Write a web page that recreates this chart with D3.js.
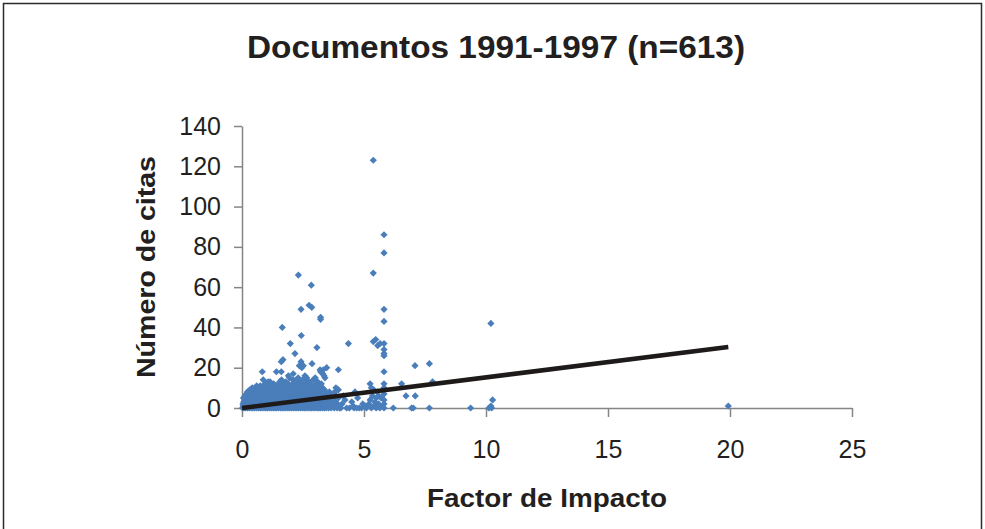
<!DOCTYPE html>
<html>
<head>
<meta charset="utf-8">
<script src="https://cdn.jsdelivr.net/npm/d3@7/dist/d3.min.js"></script>
<style>
  body { margin: 0; background: #fff; }
  text { font-family: "Liberation Sans", Arial, Helvetica, sans-serif; fill: #231f20; }
</style>
</head>
<body>
<div id="chart"></div>
<script>
var width = 985, height = 529;

// tick labels
var ticksX = [0, 5, 10, 15, 20, 25];
var ticksY = [0, 20, 40, 60, 80, 100, 120, 140];

// dense core: row index = number of citations, values = impact factor
var nucleoFI = [
  [0.02,0.08,0.15,0.22,0.3,0.38,0.45,0.52,0.6,0.68,0.75,0.82,0.9,0.98,1.05,1.12,1.2,1.28,1.35,1.42,1.5,1.58,1.65,1.72,1.8,1.88,1.95,2.02,2.1,2.18,2.25,2.32,2.4,2.48,2.55,2.62,2.7,2.78,2.85,2.92,3.0,3.08,3.15,3.22,3.3,3.38,3.45,3.55,3.65,3.78,3.9,4.05],
  [0.05,0.12,0.2,0.28,0.35,0.43,0.5,0.58,0.66,0.74,0.82,0.9,0.98,1.06,1.14,1.22,1.3,1.38,1.46,1.54,1.62,1.7,1.78,1.86,1.94,2.02,2.1,2.18,2.26,2.34,2.42,2.5,2.58,2.66,2.74,2.82,2.9,2.98,3.06,3.14,3.22,3.32,3.42,3.6,3.72,3.85],
  [0.04,0.14,0.24,0.32,0.41,0.5,0.6,0.7,0.79,0.88,0.97,1.05,1.15,1.25,1.34,1.43,1.52,1.61,1.7,1.8,1.9,1.99,2.08,2.17,2.27,2.36,2.45,2.55,2.64,2.73,2.83,2.93,3.03,3.12,3.25,3.36,3.5,3.68,3.92],
  [0.07,0.17,0.27,0.37,0.47,0.56,0.65,0.74,0.84,0.93,1.02,1.11,1.2,1.3,1.39,1.48,1.57,1.66,1.75,1.85,1.94,2.03,2.13,2.22,2.31,2.41,2.5,2.6,2.7,2.8,2.9,3.0,3.1,3.2,3.3,3.45,3.62,3.82],
  [0.1,0.21,0.3,0.4,0.5,0.6,0.69,0.78,0.88,0.97,1.07,1.16,1.26,1.36,1.45,1.55,1.64,1.74,1.83,1.93,2.02,2.12,2.21,2.31,2.4,2.5,2.6,2.7,2.8,2.9,3.0,3.12,3.24,3.38,3.55,3.75],
  [0.06,0.18,0.28,0.38,0.48,0.58,0.67,0.77,0.86,0.96,1.05,1.15,1.24,1.34,1.44,1.53,1.63,1.72,1.82,1.92,2.01,2.11,2.2,2.3,2.39,2.49,2.59,2.68,2.78,2.88,2.98,3.1,3.22,3.35,3.5,3.7,3.95],
  [0.12,0.25,0.36,0.46,0.56,0.66,0.76,0.86,0.95,1.05,1.15,1.25,1.35,1.45,1.55,1.65,1.75,1.85,1.95,2.05,2.15,2.25,2.35,2.45,2.55,2.65,2.75,2.85,2.95,3.06,3.18,3.3,3.45,3.62,3.85],
  [0.18,0.3,0.42,0.53,0.64,0.74,0.85,0.95,1.06,1.17,1.27,1.38,1.48,1.58,1.69,1.79,1.9,2.0,2.1,2.2,2.3,2.4,2.5,2.6,2.7,2.8,2.92,3.04,3.16,3.28,3.42,3.6],
  [0.22,0.35,0.47,0.58,0.7,0.8,0.92,1.03,1.14,1.25,1.36,1.47,1.58,1.69,1.8,1.91,2.02,2.12,2.22,2.33,2.44,2.55,2.66,2.77,2.88,3.0,3.12,3.25,3.4,3.58,3.8],
  [0.32,0.45,0.57,0.68,0.8,0.92,1.04,1.16,1.28,1.4,1.52,1.63,1.75,1.87,1.98,2.1,2.22,2.34,2.46,2.58,2.7,2.82,2.95,3.08,3.22,3.38],
  [0.42,0.55,0.68,0.8,0.93,1.06,1.2,1.33,1.46,1.6,1.74,1.88,2.0,2.14,2.28,2.42,2.56,2.7,2.84,2.98,3.15,3.3],
  [0.6,0.75,0.9,1.05,1.22,1.38,1.55,1.7,1.85,2.02,2.18,2.34,2.5,2.65,2.82,3.0,3.2],
  [0.95,1.3,1.5,1.72,1.9,2.08,2.26,2.44,2.6,2.8,3.05,3.25],
  [1.55,1.8,2.15,2.38,2.55,2.75,3.1],
  [1.62,2.22,2.48,2.92],
  [2.3,2.65,3.0],
  [1.9,2.58]
];

// scattered documents [factor de impacto, citas]
var dispersos = [
  [5.38,123],[5.82,86],[5.82,77],[5.38,67],[2.31,66],[2.84,61],[2.42,49],[2.75,51],[2.86,50],
  [3.22,45],[3.22,44],[5.82,49],[5.82,43],[1.65,40],[2.43,36],[1.98,32],[3.07,30],[2.17,27],
  [4.36,32],[5.38,33],[5.48,34],[5.56,31],[5.66,32],[5.82,32],[5.82,29],[5.82,27],[5.82,26],
  [1.68,24],[1.61,23],[2.42,23],[2.51,21],[2.35,21],[2.45,20],[2.87,22],[3.47,20],[3.2,19],
  [3.31,17],[3.36,16],[3.95,19],[3.33,19],[3.22,18],[3.4,15],[0.83,18],[1.41,18],[1.61,18],
  [2.1,17],[0.87,14],[1.15,13],[1.07,13],[1.95,15],[2.09,14],[5.82,18],[7.09,21],[7.68,22],
  [6.54,12],[6.72,6],[7.1,6],[7.81,13],[6.2,0],[6.95,0],[7.02,0],[7.68,0],[9.37,0],[10.12,0],
  [10.23,0],[10.27,4],[10.2,1],[10.2,42],[19.93,1],[5.25,12],[4.63,8],[4.74,5],[4.22,4],
  [4.29,0],[4.59,0],[4.9,0],[3.85,10],[3.95,9],[4.56,1],[4.0,0],[4.1,2],[4.4,0],[4.5,3],
  [4.8,0],[4.95,2],[4.7,0],[4.15,6],
  [5.05,1],[5.1,0],[5.2,2],[5.25,4],[5.3,0],[5.35,6],[5.4,1],[5.45,3],[5.5,0],[5.55,8],
  [5.6,2],[5.65,0],[5.7,5],[5.75,1],[5.82,0],[5.82,2],[5.82,4],[5.82,7],[5.82,10],[5.82,12],
  [5.4,9],[5.3,10],[5.5,5],[5.6,6]
];

// linear trend line
var tendencia = [[0, 0], [19.93, 30.3]];

var puntos = [];
nucleoFI.forEach(function(fila, citas) {
  fila.forEach(function(fi) { puntos.push([fi, citas]); });
});
puntos = puntos.concat(dispersos);

var svg = d3.select("#chart").append("svg")
    .attr("width", width)
    .attr("height", height);

svg.append("rect")
    .attr("x", 0).attr("y", 0)
    .attr("width", width).attr("height", height)
    .attr("fill", "#fff");

// frame
svg.append("rect")
    .attr("x", 3.5).attr("y", 3.5)
    .attr("width", 978).attr("height", 560)
    .attr("fill", "none")
    .attr("stroke", "#2b2b2b")
    .attr("stroke-width", 1.5);

var x = d3.scaleLinear().domain([0, 25]).range([242, 852]);
var y = d3.scaleLinear().domain([0, 140]).range([408, 126]);

var gx = svg.append("g")
    .attr("transform", "translate(0," + y(0) + ")")
    .call(d3.axisBottom(x).tickValues(ticksX).tickSize(9).tickSizeOuter(0).tickPadding(23));

var gy = svg.append("g")
    .attr("transform", "translate(" + x(0) + ",0)")
    .call(d3.axisLeft(y).tickValues(ticksY).tickSize(8).tickSizeOuter(0).tickPadding(13));

[gx, gy].forEach(function(g) {
  g.selectAll("path, line").attr("stroke", "#858585").attr("stroke-width", 1.5);
  g.selectAll("text")
      .style("font-family", "'Liberation Sans', Arial, Helvetica, sans-serif")
      .style("font-size", "25px")
      .attr("fill", "#231f20");
});

var r = 3.6;
svg.append("g").selectAll("path")
    .data(puntos)
    .enter().append("path")
      .attr("d", "M0," + (-r) + "L" + r + ",0L0," + r + "L" + (-r) + ",0Z")
      .attr("transform", function(d) { return "translate(" + x(d[0]) + "," + y(d[1]) + ")"; })
      .attr("fill", "#4a7ebb");

svg.append("path")
    .datum(tendencia)
    .attr("d", d3.line().x(function(d) { return x(d[0]); }).y(function(d) { return y(d[1]); }))
    .attr("fill", "none")
    .attr("stroke", "#1e1a1a")
    .attr("stroke-width", 4.5);

svg.append("text")
    .attr("x", 496).attr("y", 58)
    .attr("text-anchor", "middle")
    .style("font-size", "32px")
    .style("font-weight", "bold")
    .attr("textLength", 498)
    .attr("lengthAdjust", "spacingAndGlyphs")
    .text("Documentos 1991-1997 (n=613)");

svg.append("text")
    .attr("transform", "translate(155,267) rotate(-90)")
    .attr("text-anchor", "middle")
    .style("font-size", "25px")
    .style("font-weight", "bold")
    .attr("textLength", 222)
    .attr("lengthAdjust", "spacingAndGlyphs")
    .text("Número de citas");

svg.append("text")
    .attr("x", 547).attr("y", 507)
    .attr("text-anchor", "middle")
    .style("font-size", "25px")
    .style("font-weight", "bold")
    .attr("textLength", 240)
    .attr("lengthAdjust", "spacingAndGlyphs")
    .text("Factor de Impacto");
</script>
</body>
</html>
